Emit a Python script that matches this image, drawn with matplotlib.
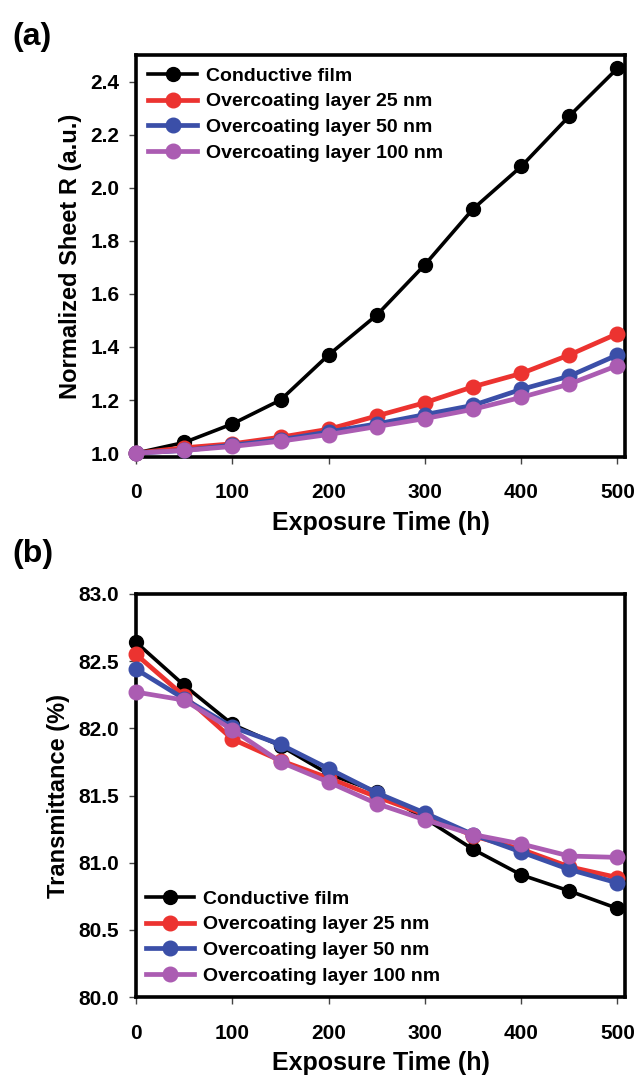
import numpy as np
import matplotlib
matplotlib.use('Agg')
import matplotlib.pyplot as plt
from matplotlib.ticker import FormatStrFormatter

# data
time_h = [0, 50, 100, 150, 200, 250, 300, 350, 400, 450, 500]
labels = ['Conductive film', 'Overcoating layer 25 nm',
          'Overcoating layer 50 nm', 'Overcoating layer 100 nm']

sheet_film = [1.00, 1.04, 1.11, 1.20, 1.37, 1.52, 1.71, 1.92, 2.08, 2.27, 2.45]
sheet_25 = [1.00, 1.02, 1.035, 1.06, 1.09, 1.14, 1.19, 1.25, 1.30, 1.37, 1.45]
sheet_50 = [1.00, 1.01, 1.03, 1.05, 1.08, 1.11, 1.145, 1.18, 1.24, 1.29, 1.37]
sheet_100 = [1.00, 1.01, 1.025, 1.045, 1.07, 1.10, 1.13, 1.165, 1.21, 1.26, 1.33]

trans_film = [82.64, 82.32, 82.03, 81.87, 81.66, 81.53, 81.33, 81.10, 80.91, 80.79, 80.66]
trans_25 = [82.55, 82.24, 81.92, 81.76, 81.63, 81.49, 81.36, 81.20, 81.10, 80.97, 80.89]
trans_50 = [82.44, 82.22, 82.01, 81.88, 81.70, 81.52, 81.37, 81.21, 81.08, 80.95, 80.85]
trans_100 = [82.27, 82.21, 81.99, 81.75, 81.60, 81.44, 81.32, 81.21, 81.14, 81.05, 81.04]

colors = ['black', '#ec3330', '#3b4fa8', '#ab5cb2']

plt.rcParams['font.family'] = ['Liberation Sans', 'DejaVu Sans']
plt.rcParams['font.weight'] = 'bold'

fig = plt.figure(figsize=(6.36, 10.78), dpi=100)
ax1 = fig.add_axes([0.214, 0.576, 0.769, 0.373])
ax2 = fig.add_axes([0.214, 0.075, 0.769, 0.374])


def draw(ax, series):
    for i, (y, lab, c) in enumerate(zip(series, labels, colors)):
        lw = 2.6 if i == 0 else 3.4
        ms = 10 if i == 0 else 10.5
        ax.plot(time_h, y, '-o', color=c, lw=lw, ms=ms, label=lab,
                clip_on=False, zorder=3 + i)
    for s in ax.spines.values():
        s.set_linewidth(2.6)
    ax.set_xlim(0, 508)
    ax.set_xticks([0, 100, 200, 300, 400, 500])
    ax.tick_params(top=False, right=False, direction='out', length=5,
                   width=1, color='#444444', labelsize=15)
    ax.tick_params(axis='x', pad=14)
    ax.tick_params(axis='y', pad=7)
    ax.set_xlabel('Exposure Time (h)', fontsize=18, fontweight='bold', labelpad=6)


draw(ax1, [sheet_film, sheet_25, sheet_50, sheet_100])
ax1.set_ylim(0.985, 2.5)
ax1.set_yticks(np.arange(1.0, 2.41, 0.2))
ax1.yaxis.set_major_formatter(FormatStrFormatter('%.1f'))
ax1.set_ylabel('Normalized Sheet R (a.u.)', fontsize=17, fontweight='bold', labelpad=6)
ax1.legend(loc='upper left', bbox_to_anchor=(0.025, 0.97), frameon=False,
           fontsize=14, handlelength=2.5, handletextpad=0.45, labelspacing=0.42,
           borderpad=0, borderaxespad=0)

draw(ax2, [trans_film, trans_25, trans_50, trans_100])
ax2.set_ylim(80.0, 83.0)
ax2.set_yticks(np.arange(80.0, 83.01, 0.5))
ax2.yaxis.set_major_formatter(FormatStrFormatter('%.1f'))
ax2.set_ylabel('Transmittance (%)', fontsize=17, fontweight='bold', labelpad=6)
ax2.legend(loc='lower left', bbox_to_anchor=(0.02, 0.03), frameon=False,
           fontsize=14, handlelength=2.5, handletextpad=0.45, labelspacing=0.42,
           borderpad=0, borderaxespad=0)

fig.text(0.02, 0.966, '(a)', fontsize=23, fontweight='bold', va='center')
fig.text(0.02, 0.486, '(b)', fontsize=23, fontweight='bold', va='center')

fig.savefig('out.png', dpi=100)
